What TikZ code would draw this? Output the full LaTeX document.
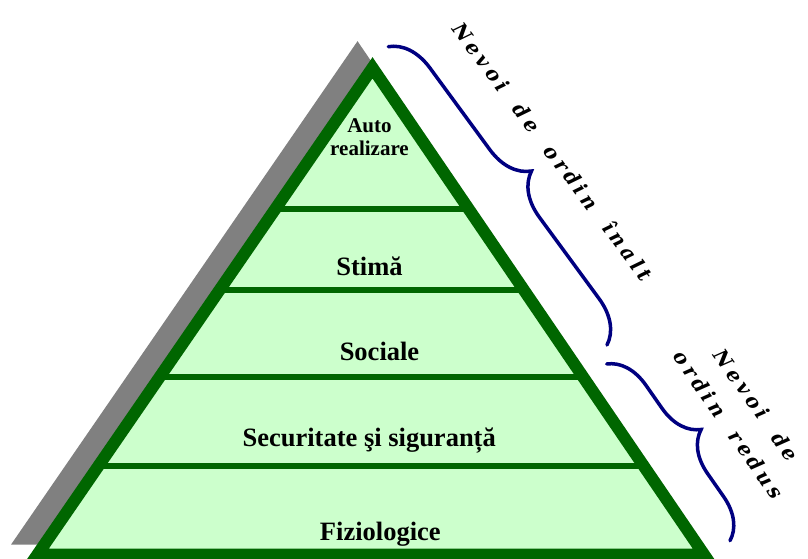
\documentclass[tikz,border=0pt]{standalone}
\usepackage{fontspec}
\setmainfont{Liberation Serif}
\newfontfamily\braceserif{DejaVu Serif}
\usetikzlibrary{decorations.pathreplacing}
\definecolor{pyrgreen}{HTML}{006600}
\definecolor{pyrfill}{HTML}{CCFFCC}
\definecolor{bracenavy}{HTML}{000080}
\definecolor{shadowgray}{HTML}{808080}

% widely spaced letters: a fixed kern between the letters of a word
\newdimen\lkern
\lkern=4pt
\def\spaceout#1{\spaceoutB#1\relax}
\def\spaceoutB#1#2{#1\ifx#2\relax\else\kern\lkern\expandafter\spaceoutB\expandafter#2\fi}
\newcommand\wgap{\hspace{21pt}}

\begin{document}
\begin{tikzpicture}[x=1pt,y=1pt,
  level/.style={font=\fontsize{26.5}{30}\selectfont\bfseries, anchor=base, inner sep=0pt},
  toplevel/.style={font=\fontsize{21}{24}\selectfont\bfseries, anchor=base, inner sep=0pt},
  bracelabel/.style={font=\fontsize{20}{34}\selectfont\braceserif\bfseries\itshape, inner sep=0pt},
  bracestroke/.style={draw=bracenavy, line width=3.5pt, line cap=round,
    decorate, decoration={brace, amplitude=#1}},
]
\useasboundingbox (0,0) rectangle (808,-559);

% pyramid corners (centre line of the outline)
\coordinate (apex) at (372.5,-67.8);
\coordinate (bl) at (37.5,-554.5);
\coordinate (br) at (704,-554.5);

% drop shadow, offset up and to the left
\filldraw[shadowgray, line width=12pt, line join=miter]
  ([xshift=-15pt,yshift=16pt]apex) -- ([xshift=-15pt,yshift=16pt]bl)
  -- ([xshift=-15pt,yshift=16pt]br) -- cycle;

% body of the pyramid
\fill[pyrfill] (apex) -- (bl) -- (br) -- cycle;

% level separators
\begin{scope}
  \clip (apex) -- (bl) -- (br) -- cycle;
  \draw[pyrgreen, line width=6pt] (0,-209) -- (808,-209);
  \draw[pyrgreen, line width=6pt] (0,-289.5) -- (808,-289.5);
  \draw[pyrgreen, line width=6pt] (0,-376.5) -- (808,-376.5);
  \draw[pyrgreen, line width=6pt] (0,-466.3) -- (808,-466.3);
\end{scope}

% outline
\draw[pyrgreen, line width=12pt, line join=miter] (apex) -- (bl) -- (br) -- cycle;

% level labels
\node[toplevel] (auto1) at (369.5,-132) {Auto};
\node[toplevel] (auto2) at (369.5,-155) {realizare};
\node[level] (stima) at (369.5,-275) {Stimă};
\node[level] (sociale) at (379.5,-360) {Sociale};
\node[level] (secur) at (369.2,-446.7) {Securitate şi siguranță};
\node[level] (fizio) at (380.3,-540) {Fiziologice};

% braces
\coordinate (hiA) at (388.3,-46.7);
\coordinate (hiB) at (607,-345);
\draw[bracestroke=42pt] (hiA) -- (hiB);
\coordinate (loA) at (606.7,-364);
\coordinate (loB) at (730,-540.7);
\draw[bracestroke=40pt] (loA) -- (loB);

% brace labels
\node[bracelabel, rotate=-53] (hilabel) at (553,-151.5)
  {\spaceout{Nevoi}\wgap\spaceout{de}\wgap\spaceout{ordin}\wgap\spaceout{înalt}};
\node[bracelabel, rotate=-55, align=center] (lolabel) at (742.6,-415)
  {\spaceout{Nevoi}\wgap\spaceout{de}\\\spaceout{ordin}\wgap\spaceout{redus}};
\end{tikzpicture}
\end{document}
